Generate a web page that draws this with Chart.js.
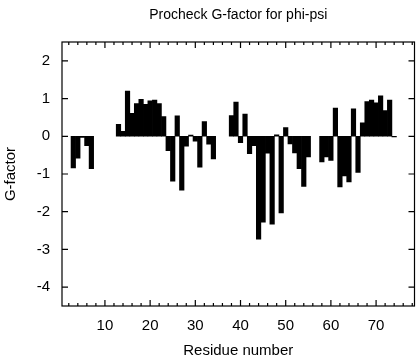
<!DOCTYPE html>
<html>
<head>
<meta charset="utf-8">
<script src="https://cdn.jsdelivr.net/npm/chart.js@4"></script>
<style>
	html, body { margin: 0; padding: 0; background: #fff; }
	#wrap { width: 416px; height: 360px; }
</style>
</head>
<body>
<div id="wrap"><canvas id="myChart" width="416" height="360"></canvas></div>
<script>
// Residue numbers that have a value
let residues = [
	3, 4, 5, 6, 7,
	13, 14, 15, 16, 17, 18, 19, 20, 21, 22, 23, 24, 25, 26, 27, 28, 29, 30, 31, 32, 33, 34,
	38, 39, 40, 41, 42, 43, 44, 45, 46, 47, 48, 49, 50, 51, 52, 53, 54, 55,
	58, 59, 60, 61, 62, 63, 64, 65, 66, 67, 68, 69, 70, 71, 72, 73, 74,
]

// G-factor per residue
let gfactor = [
	-0.84, -0.58, -0.03, -0.25, -0.86,
	0.32, 0.13, 1.20, 0.61, 0.87, 0.98, 0.85, 0.94, 0.96, 0.87, 0.52, -0.38, -1.19, 0.54, -1.43, -0.26, 0.03, -0.13, -0.82, 0.39, -0.21, -0.60,
	0.55, 0.91, -0.17, 0.59, -0.46, -0.25, -2.73, -2.28, -0.45, -2.33, 0.04, -2.03, 0.23, -0.20, -0.44, -0.86, -1.33, -0.55,
	-0.68, -0.55, -0.64, 0.75, -1.34, -1.05, -1.21, 0.73, -0.96, 0.36, 0.92, 0.96, 0.89, 1.07, 0.68, 0.96, -0.02,
]

let xTicks = [10, 20, 30, 40, 50, 60, 70]
let yTicks = [-4, -3, -2, -1, 0, 1, 2]
let chartTitle = "Procheck G-factor for phi-psi"

let fontFamily = "'Liberation Sans', Arial, Helvetica, sans-serif"
let ctx = document.getElementById("myChart").getContext("2d")

// Frame with inward tick marks on all four sides, title centred over the plot
let frameTicks = {
	id: "frameTicks",
	afterDraw(chart) {
		let c = chart.ctx
		let a = chart.chartArea
		let xs = chart.scales.x
		let ys = chart.scales.y
		c.save()
		c.strokeStyle = "#000"
		c.lineWidth = 1.2
		c.strokeRect(a.left, a.top, a.right - a.left, a.bottom - a.top)
		c.beginPath()
		for (let v = 2; v <= 78; v += 2) {
			let px = xs.getPixelForValue(v)
			let len = v % 10 == 0 ? 6 : 3
			c.moveTo(px, a.bottom)
			c.lineTo(px, a.bottom - len)
			c.moveTo(px, a.top)
			c.lineTo(px, a.top + len)
		}
		yTicks.forEach(function (v) {
			let py = ys.getPixelForValue(v)
			c.moveTo(a.left, py)
			c.lineTo(a.left + 6, py)
			c.moveTo(a.right, py)
			c.lineTo(a.right - 6, py)
		})
		c.stroke()

		c.fillStyle = "#000"
		c.font = "14px " + fontFamily
		c.textAlign = "center"
		c.textBaseline = "middle"
		c.fillText(chartTitle, (a.left + a.right) / 2, 15)
		c.restore()
	}
}

let config = {
	type: "bar",
	data: {
		datasets: [{
			data: residues.map(function (r, i) {
				return {x: r, y: gfactor[i]}
			}),
			backgroundColor: "#000",
			borderWidth: 0,
			barPercentage: 1,
			categoryPercentage: 1,
		}],
	},
	options: {
		responsive: false,
		animation: false,
		layout: {padding: {left: 0, right: 1.5, top: 42, bottom: 0}},
		plugins: {
			legend: {display: false},
			tooltip: {enabled: false},
			title: {display: false},
		},
		scales: {
			x: {
				type: "linear",
				offset: false,
				min: 0.5,
				max: 78.5,
				afterBuildTicks: function (scale) {
					scale.ticks = xTicks.map(v => ({value: v}))
				},
				afterFit: function (scale) {
					scale.height = 54
				},
				grid: {display: false, drawTicks: false, offset: false},
				border: {display: false},
				ticks: {
					color: "#000",
					padding: 11,
					maxRotation: 0,
					font: {family: fontFamily, size: 15},
				},
				title: {
					display: true,
					text: "Residue number",
					color: "#000",
					font: {family: fontFamily, size: 15},
					padding: {top: 8, bottom: 0},
				},
			},
			y: {
				min: -4.5,
				max: 2.5,
				afterBuildTicks: function (scale) {
					scale.ticks = yTicks.map(v => ({value: v}))
				},
				afterFit: function (scale) {
					scale.width = 62
				},
				grid: {display: false, drawTicks: false},
				border: {display: false},
				ticks: {
					color: "#000",
					padding: 12,
					font: {family: fontFamily, size: 15},
				},
				title: {
					display: true,
					text: "G-factor",
					color: "#000",
					font: {family: fontFamily, size: 15},
					padding: {top: 2, bottom: 0},
				},
			},
		},
	},
	plugins: [frameTicks],
}

let gChart = new Chart(ctx, config)
</script>
</body>
</html>
